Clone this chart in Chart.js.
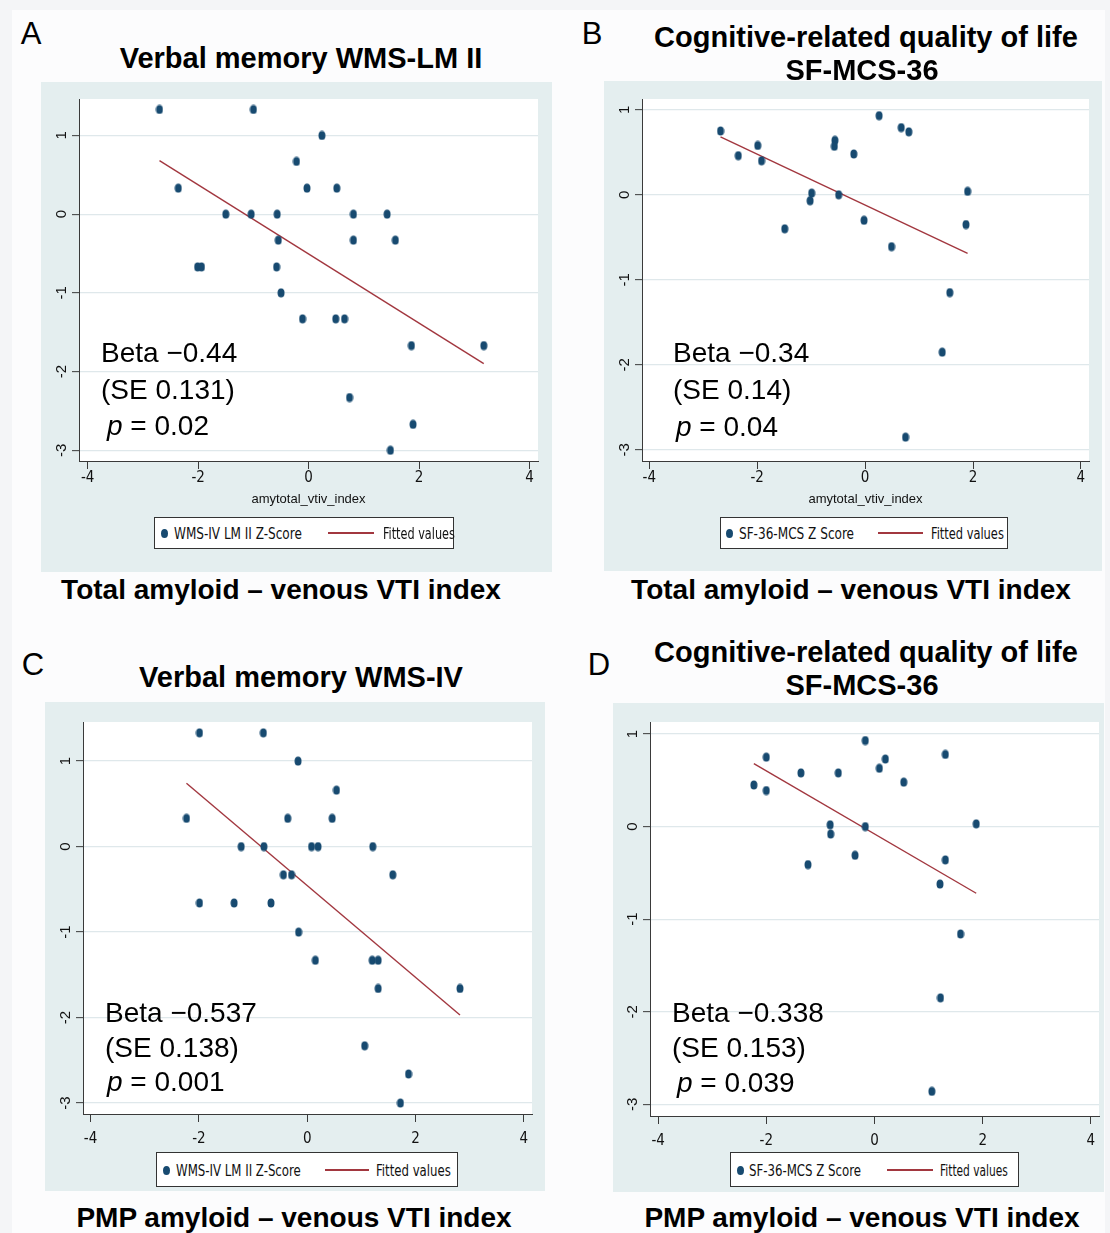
<!DOCTYPE html>
<html><head><meta charset="utf-8">
<script src="https://cdn.jsdelivr.net/npm/chart.js@4.4.1/dist/chart.umd.min.js"></script>
<style>
html,body{margin:0;padding:0;}
body{width:1110px;height:1233px;background:#f4f5f7;position:relative;overflow:hidden;font-family:'Liberation Sans',Arial,Helvetica,sans-serif;}
.t{position:absolute;white-space:nowrap;color:#000;line-height:1.15;}
.c{transform:translate(-50%,-50%);}
.l{transform:translateY(-50%);}
.title{font-weight:bold;font-size:29px;}
.sub{font-weight:bold;font-size:28px;}
.letter{font-size:31px;}
.ann{font-size:28px;}
.leg{position:absolute;background:#fff;border:1px solid #333;box-sizing:border-box;}
.legtxt{position:absolute;white-space:nowrap;font-family:'Liberation Sans Narrow','Arial Narrow','DejaVu Sans Condensed',sans-serif;font-size:16px;color:#111;transform-origin:0 50%;}
.wb{position:absolute;}
</style></head><body>
<script>
// ---------------- DATA ----------------
const xTickValues = [-4, -2, 0, 2, 4];
const yTickValues = [-3, -2, -1, 0, 1];

// Panel A: Verbal memory WMS-LM II vs total amyloid index
const aX = [-2.70,-1.00,0.24,-0.22,-2.36,-0.03,0.51,-1.50,-1.04,-0.57,0.81,1.42,-0.55,0.81,1.57,-2.01,-1.94,-0.58,-0.50,-0.11,0.49,0.65,1.86,3.17,0.74,1.89,1.48];
const aY = [1.33,1.33,1.00,0.67,0.33,0.33,0.33,0,0,0,0,0,-0.33,-0.33,-0.33,-0.67,-0.67,-0.67,-1.00,-1.33,-1.33,-1.33,-1.67,-1.67,-2.33,-2.67,-3.00];
const aFitX = [-2.70, 3.17];
const aFitY = [0.68, -1.90];

// Panel B: SF-MCS-36 vs total amyloid index
const bX = [-2.68,-2.35,-1.99,-1.92,-1.49,-0.99,-1.02,-0.56,-0.57,-0.49,-0.21,-0.02,0.26,0.49,0.67,0.81,1.90,1.87,1.57,1.43,0.75];
const bY = [0.75,0.46,0.58,0.40,-0.40,0.02,-0.07,0.64,0.57,0.00,0.48,-0.30,0.93,-0.61,0.79,0.74,0.04,-0.35,-1.15,-1.85,-2.85];
const bFitX = [-2.68, 1.90];
const bFitY = [0.68, -0.69];

// Panel C: Verbal memory WMS-IV vs PMP amyloid index
const cX = [-1.99,-0.81,-0.17,0.54,-2.23,-0.36,0.46,-1.22,-0.80,0.08,0.20,1.21,-0.44,-0.29,1.58,-1.99,-1.35,-0.67,-0.16,0.15,1.20,1.31,1.31,2.82,1.06,1.87,1.72];
const cY = [1.33,1.33,1.00,0.66,0.33,0.33,0.33,0,0,0,0,0,-0.33,-0.33,-0.33,-0.66,-0.66,-0.66,-1.00,-1.33,-1.33,-1.33,-1.66,-1.66,-2.33,-2.66,-3.00];
const cFitX = [-2.23, 2.82];
const cFitY = [0.74, -1.97];

// Panel D: SF-MCS-36 vs PMP amyloid index
const dX = [-2.23,-2.00,-2.00,-1.36,-1.23,-0.82,-0.81,-0.67,-0.36,-0.17,-0.17,0.09,0.20,0.54,1.31,1.31,1.21,1.88,1.59,1.22,1.06];
const dY = [0.45,0.75,0.39,0.58,-0.41,0.02,-0.08,0.58,-0.31,0.93,0.00,0.63,0.73,0.48,0.78,-0.36,-0.62,0.03,-1.16,-1.85,-2.86];
const dFitX = [-2.23, 1.88];
const dFitY = [0.68, -0.72];

const seriesLabels = ['WMS-IV LM II Z-Score', 'SF-36-MCS Z Score', 'WMS-IV LM II Z-Score', 'SF-36-MCS Z Score'];
const fitLabel = 'Fitted values';
const betaLabels = ['Beta \u22120.44', 'Beta \u22120.34', 'Beta \u22120.537', 'Beta \u22120.338'];
const seLabels = ['(SE 0.131)', '(SE 0.14)', '(SE 0.138)', '(SE 0.153)'];
const pLabels = ['0.02', '0.04', '0.001', '0.039'];
const xAxisTitle = 'amytotal_vtiv_index';

// ---------------- STYLE ----------------
const NAVY = '#174a70';
const MAROON = '#a2373f';
const AXIS = '#3a3a3a';
const GRID = '#dfe8eb';
const PANEL = '#e4eeef';
const NARROW = "'Liberation Sans Narrow','Arial Narrow','DejaVu Sans Condensed',sans-serif";
const SANS = "'Liberation Sans',Arial,sans-serif";

const dot = document.createElement('canvas');
dot.width = 8; dot.height = 10;
(function(){ const g = dot.getContext('2d'); g.fillStyle = NAVY; g.beginPath(); g.ellipse(4,5,3.5,4.5,0,0,Math.PI*2); g.fill(); })();

const bgPlugin = {
  id: 'panelBg',
  beforeDraw(chart) {
    const {ctx, chartArea: a, width, height} = chart;
    ctx.save();
    ctx.fillStyle = PANEL; ctx.fillRect(0, 0, width, height);
    ctx.fillStyle = '#ffffff'; ctx.fillRect(a.left, a.top, a.right - a.left, a.bottom - a.top);
    ctx.restore();
  }
};

function addText(cls, txt, x, y, html) {
  const d = document.createElement('div');
  d.className = 't ' + cls;
  if (html) d.innerHTML = txt; else d.textContent = txt;
  d.style.left = x + 'px'; d.style.top = y + 'px';
  document.body.appendChild(d);
  return d;
}

function makeChart(p) {
  const cv = document.createElement('canvas');
  const w = p.box.r - p.box.l, h = p.box.b - p.box.t;
  cv.width = w; cv.height = h;
  cv.style.cssText = `position:absolute;left:${p.box.l}px;top:${p.box.t}px;width:${w}px;height:${h}px;`;
  document.body.appendChild(cv);
  const yAxisW = p.plot.l - p.box.l;
  const padTop = p.plot.t - p.box.t;
  const padRight = p.box.r - p.plot.r;
  const below = p.box.b - p.plot.b;
  const xAxisH = p.xTitle ? 50 : 36;
  new Chart(cv, {
    type: 'scatter',
    data: { datasets: [
      { label: p.seriesLabel, data: p.xs.map((x, i) => ({x, y: p.ys[i]})), pointStyle: dot, pointRadius: 4, backgroundColor: NAVY, borderColor: NAVY, order: 1 },
      { label: fitLabel, data: p.fitX.map((x, i) => ({x, y: p.fitY[i]})), showLine: true, borderColor: MAROON, backgroundColor: MAROON, borderWidth: 1.4, pointRadius: 0, order: 2 }
    ]},
    options: {
      responsive: false, animation: false, devicePixelRatio: 1,
      layout: { padding: { left: 0, top: padTop, right: padRight, bottom: below - xAxisH } },
      plugins: { legend: { display: false }, tooltip: { enabled: false } },
      scales: {
        x: {
          type: 'linear', position: 'bottom', min: p.xMin, max: p.xMax, bounds: 'data',
          afterBuildTicks: s => { s.ticks = xTickValues.map(v => ({value: v})); },
          afterFit: s => { s.height = xAxisH; },
          grid: { drawOnChartArea: false, drawTicks: true, tickLength: 8, tickColor: AXIS, tickWidth: 1, color: AXIS },
          border: { display: true, color: AXIS, width: 1 },
          ticks: { font: { family: NARROW, size: 15 }, color: '#111', padding: p.xTickPad, maxRotation: 0, minRotation: 0, autoSkip: false, callback: v => String(v) },
          title: { display: !!p.xTitle, text: p.xTitle || '', font: { family: SANS, size: 13 }, color: '#111', padding: { top: 0, bottom: 4 } }
        },
        y: {
          type: 'linear', position: 'left', min: p.yMin, max: p.yMax, bounds: 'data',
          afterBuildTicks: s => { s.ticks = yTickValues.map(v => ({value: v})); },
          afterFit: s => { s.width = yAxisW; },
          grid: { drawOnChartArea: true, color: GRID, lineWidth: 1.3, drawTicks: true, tickLength: 7, tickColor: AXIS, tickWidth: 1 },
          border: { display: true, color: AXIS, width: 1 },
          ticks: { font: { family: SANS, size: 15 }, color: '#111', padding: 3, minRotation: 90, maxRotation: 90, crossAlign: 'center', autoSkip: false, callback: v => String(v) }
        }
      }
    },
    plugins: [bgPlugin]
  });
}

function fitText(el, target) {
  const w = el.offsetWidth;
  const s = w > 0 ? target / w : 1;
  el.style.transform = `translateY(-50%) scaleX(${s})`;
}

function makeLegend(L, label) {
  const b = document.createElement('div');
  b.className = 'leg';
  b.style.left = L.l + 'px'; b.style.top = L.t + 'px';
  b.style.width = (L.r - L.l) + 'px'; b.style.height = (L.b - L.t) + 'px';
  document.body.appendChild(b);
  const cy = Math.round((L.b - L.t) / 2) - 1;
  const dm = document.createElement('div');
  dm.style.cssText = `position:absolute;left:${L.dot - L.l - 3.5}px;top:${cy - 4.5}px;width:7px;height:9px;border-radius:50%;background:${NAVY};`;
  b.appendChild(dm);
  const t1 = document.createElement('div'); t1.className = 'legtxt'; t1.textContent = label;
  t1.style.left = (L.t1 - L.l) + 'px'; t1.style.top = cy + 'px'; b.appendChild(t1);
  fitText(t1, L.w1);
  const ln = document.createElement('div');
  ln.style.cssText = `position:absolute;left:${L.l1 - L.l}px;top:${cy - 1}px;width:${L.l2 - L.l1}px;height:1.5px;background:${MAROON};`;
  b.appendChild(ln);
  const t2 = document.createElement('div'); t2.className = 'legtxt'; t2.textContent = fitLabel;
  t2.style.left = (L.t2 - L.l) + 'px'; t2.style.top = cy + 'px'; b.appendChild(t2);
  fitText(t2, L.w2);
}

// light page frame with white inner area
(function(){ const d = document.createElement('div'); d.className='wb'; d.style.cssText += 'left:12px;top:10px;width:1093px;height:1223px;background:#fcfcfd'; document.body.appendChild(d); })();

const panels = [
  { box:{l:41,t:82,r:552,b:572}, plot:{l:79,t:99,r:538,b:461}, xMin:-4.157, xMax:4.152, yMin:-3.136, yMax:1.463,
    xs:aX, ys:aY, fitX:aFitX, fitY:aFitY, xTitle:xAxisTitle, xTickPad:0,
    leg:{l:154,t:517,r:454,b:549,dot:163,t1:173,w1:128,l1:327,l2:373,t2:382,w2:72} },
  { box:{l:604,t:81,r:1102,b:571}, plot:{l:642,t:99,r:1089,b:461}, xMin:-4.135, xMax:4.15, yMin:-3.13, yMax:1.126,
    xs:bX, ys:bY, fitX:bFitX, fitY:bFitY, xTitle:xAxisTitle, xTickPad:0,
    leg:{l:720,t:517,r:1008,b:549,dot:728,t1:738,w1:115,l1:877,l2:922,t2:930,w2:73} },
  { box:{l:45,t:702,r:545,b:1191}, plot:{l:83,t:722,r:532,b:1114}, xMin:-4.14, xMax:4.15, yMin:-3.128, yMax:1.457,
    xs:cX, ys:cY, fitX:cFitX, fitY:cFitY, xTitle:null, xTickPad:8,
    leg:{l:156,t:1152,r:458,b:1187,dot:165,t1:175,w1:125,l1:324,l2:368,t2:375,w2:75} },
  { box:{l:613,t:703,r:1104,b:1192}, plot:{l:650,t:722,r:1099,b:1116}, xMin:-4.15, xMax:4.15, yMin:-3.126, yMax:1.13,
    xs:dX, ys:dY, fitX:dFitX, fitY:dFitY, xTitle:null, xTickPad:8,
    leg:{l:730,t:1152,r:1019,b:1187,dot:739,t1:748,w1:112,l1:886,l2:932,t2:939,w2:68} }
];

panels.forEach((p, i) => { p.seriesLabel = seriesLabels[i]; makeChart(p); makeLegend(p.leg, seriesLabels[i]); });

// Panel letters and titles
addText('letter c', 'A', 31, 34);
addText('letter c', 'B', 592, 34);
addText('letter c', 'C', 33, 665);
addText('letter c', 'D', 599, 665);
addText('title c', 'Verbal memory WMS-LM II', 301, 59);
addText('title c', 'Cognitive-related quality of life', 866, 38);
addText('title c', 'SF-MCS-36', 862, 71);
addText('title c', 'Verbal memory WMS-IV', 301, 678);
addText('title c', 'Cognitive-related quality of life', 866, 653);
addText('title c', 'SF-MCS-36', 862, 686);
addText('sub c', 'Total amyloid \u2013 venous VTI index', 281, 590);
addText('sub c', 'Total amyloid \u2013 venous VTI index', 851, 590);
addText('sub c', 'PMP amyloid \u2013 venous VTI index', 294, 1218);
addText('sub c', 'PMP amyloid \u2013 venous VTI index', 862, 1218);

// Regression annotations
const annPos = [[101,353,390,107,426],[673,353,390,676,427],[105,1013,1048,107,1082],[672,1013,1048,677,1083]];
annPos.forEach((a, i) => {
  addText('ann l', betaLabels[i], a[0], a[1]);
  addText('ann l', seLabels[i], a[0], a[2]);
  addText('ann l', '<i>p</i> = ' + pLabels[i], a[3], a[4], true);
});
</script>
</body></html>
